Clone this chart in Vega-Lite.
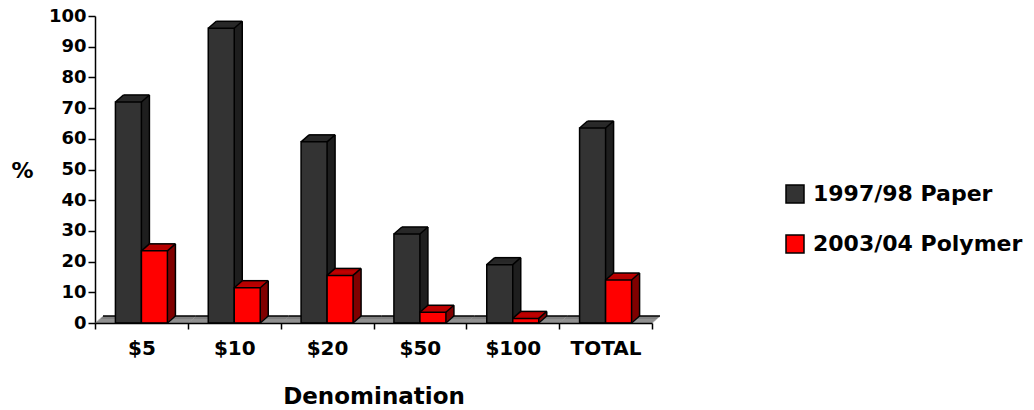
{
  "$schema": "https://vega.github.io/schema/vega-lite/v6.json",
  "width": 557,
  "height": 307,
  "autosize": {"type": "none"},
  "padding": {"left": 95, "top": 16, "right": 382, "bottom": 87},
  "background": "white",
  "config": {
    "view": {"stroke": null},
    "font": "DejaVu Sans",
    "axis": {"labelFontWeight": "bold", "titleFontWeight": "bold", "labelColor": "black", "titleColor": "black", "domainColor": "black", "tickColor": "black", "domainWidth": 1.5, "tickWidth": 1.5, "grid": false}
  },
  "data": {
    "values": [
      {"denomination": "$5", "series": "1997/98 Paper", "pct": 72},
      {"denomination": "$10", "series": "1997/98 Paper", "pct": 96},
      {"denomination": "$20", "series": "1997/98 Paper", "pct": 59},
      {"denomination": "$50", "series": "1997/98 Paper", "pct": 29},
      {"denomination": "$100", "series": "1997/98 Paper", "pct": 19},
      {"denomination": "TOTAL", "series": "1997/98 Paper", "pct": 63.5},
      {"denomination": "$5", "series": "2003/04 Polymer", "pct": 23.5},
      {"denomination": "$10", "series": "2003/04 Polymer", "pct": 11.5},
      {"denomination": "$20", "series": "2003/04 Polymer", "pct": 15.5},
      {"denomination": "$50", "series": "2003/04 Polymer", "pct": 3.5},
      {"denomination": "$100", "series": "2003/04 Polymer", "pct": 1.5},
      {"denomination": "TOTAL", "series": "2003/04 Polymer", "pct": 14}
    ]
  },
  "encoding": {
    "x": {
      "field": "denomination", "type": "nominal",
      "sort": ["$5", "$10", "$20", "$50", "$100", "TOTAL"],
      "scale": {"paddingInner": 0, "paddingOuter": 0},
      "axis": {"title": "Denomination", "tickBand": "extent", "labelAngle": 0, "labelFontSize": 20, "labelPadding": 9, "tickSize": 6, "titleFontSize": 23, "titlePadding": 27}
    },
    "y": {
      "field": "pct", "type": "quantitative",
      "scale": {"domain": [0, 100], "nice": false},
      "axis": {"title": "%", "titleAngle": 0, "titleX": -73, "titleY": 154, "titleAlign": "center", "titleBaseline": "middle", "titleFontSize": 22, "values": [0, 10, 20, 30, 40, 50, 60, 70, 80, 90, 100], "labelFontSize": 18, "labelPadding": 2, "tickSize": 7}
    }
  },
  "layer": [
    {
      "transform": [{"filter": "datum.series === '1997/98 Paper'"}],
      "encoding": {"y": {"datum": 0}, "y2": {"datum": 0}},
      "layer": [
        {"mark": {"type": "rect", "fill": "#808080", "xOffset": 0.5, "x2Offset": 0.5, "yOffset": -0.875, "y2Offset": 0.3}},
        {"mark": {"type": "rect", "fill": "#808080", "xOffset": 1.5, "x2Offset": 1.5, "yOffset": -1.75, "y2Offset": -0.575}},
        {"mark": {"type": "rect", "fill": "#808080", "xOffset": 2.5, "x2Offset": 2.5, "yOffset": -2.625, "y2Offset": -1.45}},
        {"mark": {"type": "rect", "fill": "#808080", "xOffset": 3.5, "x2Offset": 3.5, "yOffset": -3.5, "y2Offset": -2.325}},
        {"mark": {"type": "rect", "fill": "#808080", "xOffset": 4.5, "x2Offset": 4.5, "yOffset": -4.375, "y2Offset": -3.2}},
        {"mark": {"type": "rect", "fill": "#808080", "xOffset": 5.5, "x2Offset": 5.5, "yOffset": -5.25, "y2Offset": -4.075}},
        {"mark": {"type": "rect", "fill": "#808080", "xOffset": 6.5, "x2Offset": 6.5, "yOffset": -6.125, "y2Offset": -4.95}},
        {"mark": {"type": "rect", "fill": "#808080", "xOffset": 7.5, "x2Offset": 7.5, "yOffset": -7, "y2Offset": -5.825}},
        {"mark": {"type": "rect", "fill": "black", "xOffset": 8, "x2Offset": 8, "yOffset": -7.7, "y2Offset": -6.3}}
      ]
    },
    {
      "transform": [{"filter": "datum.series === '1997/98 Paper'"}],
      "layer": [
        {"mark": {"type": "bar", "width": 26, "fill": "#1e1e1e", "xOffset": -12, "yOffset": -0.875, "y2Offset": -0.875}},
        {"mark": {"type": "bar", "width": 26, "fill": "#1e1e1e", "xOffset": -11, "yOffset": -1.75, "y2Offset": -1.75}},
        {"mark": {"type": "bar", "width": 26, "fill": "#1e1e1e", "xOffset": -10, "yOffset": -2.625, "y2Offset": -2.625}},
        {"mark": {"type": "bar", "width": 26, "fill": "#1e1e1e", "xOffset": -9, "yOffset": -3.5, "y2Offset": -3.5}},
        {"mark": {"type": "bar", "width": 26, "fill": "#1e1e1e", "xOffset": -8, "yOffset": -4.375, "y2Offset": -4.375}},
        {"mark": {"type": "bar", "width": 26, "fill": "#1e1e1e", "xOffset": -7, "yOffset": -5.25, "y2Offset": -5.25}},
        {"mark": {"type": "bar", "width": 26, "fill": "#1e1e1e", "xOffset": -6, "yOffset": -6.125, "y2Offset": -6.125}},
        {"mark": {"type": "bar", "width": 26, "fill": "#1e1e1e", "xOffset": -5, "yOffset": -7, "y2Offset": -7}},
        {
          "encoding": {"y2": {"field": "pct"}},
          "layer": [
            {"mark": {"type": "bar", "width": 26, "fill": "#2a2a2a", "xOffset": -12.5, "yOffset": -0.875, "y2Offset": 0.2}},
            {"mark": {"type": "bar", "width": 26, "fill": "#2a2a2a", "xOffset": -11.5, "yOffset": -1.75, "y2Offset": -0.675}},
            {"mark": {"type": "bar", "width": 26, "fill": "#2a2a2a", "xOffset": -10.5, "yOffset": -2.625, "y2Offset": -1.55}},
            {"mark": {"type": "bar", "width": 26, "fill": "#2a2a2a", "xOffset": -9.5, "yOffset": -3.5, "y2Offset": -2.425}},
            {"mark": {"type": "bar", "width": 26, "fill": "#2a2a2a", "xOffset": -8.5, "yOffset": -4.375, "y2Offset": -3.3}},
            {"mark": {"type": "bar", "width": 26, "fill": "#2a2a2a", "xOffset": -7.5, "yOffset": -5.25, "y2Offset": -4.175}},
            {"mark": {"type": "bar", "width": 26, "fill": "#2a2a2a", "xOffset": -6.5, "yOffset": -6.125, "y2Offset": -5.05}},
            {"mark": {"type": "bar", "width": 26, "fill": "#2a2a2a", "xOffset": -5.5, "yOffset": -7, "y2Offset": -5.925}}
          ]
        },
        {"mark": {"type": "rule", "stroke": "black", "strokeWidth": 1.5, "xOffset": -18, "x2Offset": 8, "yOffset": -7, "y2Offset": -7}, "encoding": {"x2": {"field": "denomination"}, "y2": {"field": "pct"}}},
        {"mark": {"type": "rule", "stroke": "black", "strokeWidth": 1.5, "xOffset": 8, "yOffset": -7, "y2Offset": -7}, "encoding": {"y2": {"datum": 0}}},
        {"mark": {"type": "rule", "stroke": "black", "strokeWidth": 1.5, "xOffset": -26, "x2Offset": -18, "yOffset": 0, "y2Offset": -7}, "encoding": {"x2": {"field": "denomination"}, "y2": {"field": "pct"}}},
        {"mark": {"type": "rule", "stroke": "black", "strokeWidth": 1.5, "xOffset": 0, "x2Offset": 8, "yOffset": 0, "y2Offset": -7}, "encoding": {"x2": {"field": "denomination"}, "y2": {"field": "pct"}}},
        {
          "mark": {"type": "bar", "width": 26, "xOffset": -13, "stroke": "black", "strokeWidth": 1.5},
          "encoding": {
            "color": {
              "field": "series", "type": "nominal",
              "scale": {"domain": ["1997/98 Paper", "2003/04 Polymer"], "range": ["#333333", "#ff0000"]},
              "legend": {"orient": "none", "legendX": 689, "legendY": 167, "title": null, "symbolType": "square", "symbolSize": 324, "symbolStrokeColor": "black", "symbolStrokeWidth": 1.5, "symbolOpacity": 1, "labelFontSize": 22, "labelFontWeight": "bold", "labelColor": "black", "labelOffset": 7, "labelLimit": 0, "rowPadding": 26}
            }
          }
        }
      ]
    },
    {
      "transform": [{"filter": "datum.series === '2003/04 Polymer'"}],
      "layer": [
        {"mark": {"type": "bar", "width": 26, "fill": "#800000", "xOffset": 14, "yOffset": -0.875, "y2Offset": -0.875}},
        {"mark": {"type": "bar", "width": 26, "fill": "#800000", "xOffset": 15, "yOffset": -1.75, "y2Offset": -1.75}},
        {"mark": {"type": "bar", "width": 26, "fill": "#800000", "xOffset": 16, "yOffset": -2.625, "y2Offset": -2.625}},
        {"mark": {"type": "bar", "width": 26, "fill": "#800000", "xOffset": 17, "yOffset": -3.5, "y2Offset": -3.5}},
        {"mark": {"type": "bar", "width": 26, "fill": "#800000", "xOffset": 18, "yOffset": -4.375, "y2Offset": -4.375}},
        {"mark": {"type": "bar", "width": 26, "fill": "#800000", "xOffset": 19, "yOffset": -5.25, "y2Offset": -5.25}},
        {"mark": {"type": "bar", "width": 26, "fill": "#800000", "xOffset": 20, "yOffset": -6.125, "y2Offset": -6.125}},
        {"mark": {"type": "bar", "width": 26, "fill": "#800000", "xOffset": 21, "yOffset": -7, "y2Offset": -7}},
        {
          "encoding": {"y2": {"field": "pct"}},
          "layer": [
            {"mark": {"type": "bar", "width": 26, "fill": "#c00000", "xOffset": 13.5, "yOffset": -0.875, "y2Offset": 0.2}},
            {"mark": {"type": "bar", "width": 26, "fill": "#c00000", "xOffset": 14.5, "yOffset": -1.75, "y2Offset": -0.675}},
            {"mark": {"type": "bar", "width": 26, "fill": "#c00000", "xOffset": 15.5, "yOffset": -2.625, "y2Offset": -1.55}},
            {"mark": {"type": "bar", "width": 26, "fill": "#c00000", "xOffset": 16.5, "yOffset": -3.5, "y2Offset": -2.425}},
            {"mark": {"type": "bar", "width": 26, "fill": "#c00000", "xOffset": 17.5, "yOffset": -4.375, "y2Offset": -3.3}},
            {"mark": {"type": "bar", "width": 26, "fill": "#c00000", "xOffset": 18.5, "yOffset": -5.25, "y2Offset": -4.175}},
            {"mark": {"type": "bar", "width": 26, "fill": "#c00000", "xOffset": 19.5, "yOffset": -6.125, "y2Offset": -5.05}},
            {"mark": {"type": "bar", "width": 26, "fill": "#c00000", "xOffset": 20.5, "yOffset": -7, "y2Offset": -5.925}}
          ]
        },
        {"mark": {"type": "rule", "stroke": "black", "strokeWidth": 1.5, "xOffset": 8, "x2Offset": 34, "yOffset": -7, "y2Offset": -7}, "encoding": {"x2": {"field": "denomination"}, "y2": {"field": "pct"}}},
        {"mark": {"type": "rule", "stroke": "black", "strokeWidth": 1.5, "xOffset": 34, "yOffset": -7, "y2Offset": -7}, "encoding": {"y2": {"datum": 0}}},
        {"mark": {"type": "rule", "stroke": "black", "strokeWidth": 1.5, "xOffset": 0, "x2Offset": 8, "yOffset": 0, "y2Offset": -7}, "encoding": {"x2": {"field": "denomination"}, "y2": {"field": "pct"}}},
        {"mark": {"type": "rule", "stroke": "black", "strokeWidth": 1.5, "xOffset": 26, "x2Offset": 34, "yOffset": 0, "y2Offset": -7}, "encoding": {"x2": {"field": "denomination"}, "y2": {"field": "pct"}}},
        {"mark": {"type": "rule", "stroke": "black", "strokeWidth": 1.5, "xOffset": 26, "x2Offset": 34, "yOffset": 0, "y2Offset": -7}, "encoding": {"x2": {"field": "denomination"}, "y": {"datum": 0}, "y2": {"datum": 0}}},
        {
          "mark": {"type": "bar", "width": 26, "xOffset": 13, "stroke": "black", "strokeWidth": 1.5},
          "encoding": {
            "color": {"field": "series", "type": "nominal"}
          }
        }
      ]
    }
  ]
}
